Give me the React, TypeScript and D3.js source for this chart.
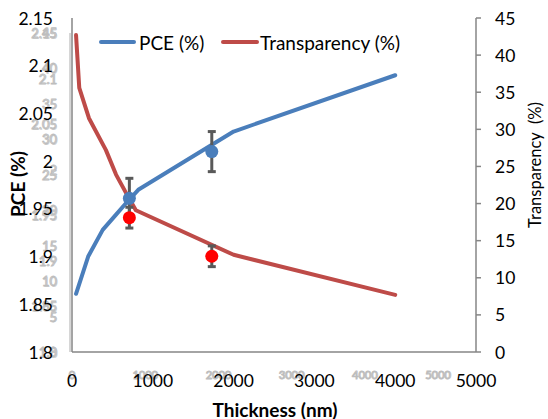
import React from "react";
import * as d3 from "d3";

// ---- data ----
const pceThickness = [50, 200, 380, 545, 700, 820, 2000, 4000];
const pceValues = [1.861, 1.9, 1.928, 1.944, 1.959, 1.97, 2.031, 2.09];
const transThickness = [50, 90, 210, 420, 545, 670, 790, 2000, 4000];
const transValues = [42.7, 35.6, 31.5, 27.2, 23.9, 21.4, 19.1, 13.1, 7.7];
const pceMarkerThickness = [710, 1730];
const pceMarkerValues = [1.961, 2.01];
const pceMarkerErrors = [0.021, 0.021];
const transMarkerThickness = [710, 1730];
const transMarkerValues = [18.1, 12.9];
const transMarkerErrors = [1.4, 1.4];
const xTicks = [0, 1000, 2000, 3000, 4000, 5000];
const leftTicks = [1.8, 1.85, 1.9, 1.95, 2, 2.05, 2.1, 2.15];
const rightTicks = [0, 5, 10, 15, 20, 25, 30, 35, 40, 45];
const seriesNames = ["PCE (%)", "Transparency (%)"];

const W = 548;
const H = 419;
const L = 72, R = 476, T = 18, B = 352;
const FONT = "Lato, 'Open Sans', sans-serif";
const BLUE = "#4A7EBB";
const RED = "#BE4B48";
const AX = "#868686";
const GHOST = "#bdbdbd";

export default function App() {
  const x = d3.scaleLinear().domain([0, 5000]).range([L, R]);
  const yL = d3.scaleLinear().domain([1.8, 2.15]).range([B, T]);
  const yR = d3.scaleLinear().domain([0, 45]).range([B, T]);
  // faint duplicated axes visible in the reference
  const gx = d3.scaleLinear().domain([0, 5000]).range([L, 438]);
  const gyL = d3.scaleLinear().domain([1.8, 2.15]).range([B, 33]);
  const gyR = d3.scaleLinear().domain([0, 45]).range([B, 33]);

  const pceLine = d3
    .line<number>()
    .x((_, i) => x(pceThickness[i]))
    .y((v) => yL(v));
  const transLine = d3
    .line<number>()
    .x((_, i) => x(transThickness[i]))
    .y((v) => yR(v));

  const fmtL = (v: number) => String(+v.toFixed(2));

  const ghostText = (key: string, tx: number, ty: number, s: string, size: number, anchor: string) => (
    <g key={key}>
      <text x={tx + 0.8} y={ty + 0.6} fontSize={size} fill="#d6d6d6" textAnchor={anchor as any} dominantBaseline="central" fontFamily={FONT}>{s}</text>
      <text x={tx} y={ty} fontSize={size} fill="#f4f4f4" stroke={GHOST} strokeWidth={0.9} textAnchor={anchor as any} dominantBaseline="central" fontFamily={FONT}>{s}</text>
    </g>
  );

  const errBar = (cx: number, y1: number, y2: number, key: string) => (
    <g key={key} stroke="#595959" strokeWidth={3}>
      <line x1={cx} x2={cx} y1={y1} y2={y2} />
      <line x1={cx - 4} x2={cx + 4} y1={y1} y2={y1} />
      <line x1={cx - 4} x2={cx + 4} y1={y2} y2={y2} />
    </g>
  );

  return (
    <svg width={W} height={H} style={{ position: "absolute", left: 0, top: 0, background: "#fff" }} fontFamily={FONT}>
      <rect x={0} y={0} width={W} height={H} fill="#fff" />

      {/* ghost axes */}
      <line x1={L - 2} x2={L - 2} y1={33} y2={B} stroke="#c8c8c8" strokeWidth={1.5} />
      {leftTicks.map((v) => ghostText("gl" + v, 57, gyL(v), fmtL(v), 13, "end"))}
      {rightTicks.map((v) => ghostText("gr" + v, 57, gyR(v), String(v), 13, "end"))}
      {xTicks.map((v) => ghostText("gx" + v, gx(v), 374, String(v), 11, "middle"))}

      {/* axes */}
      <line x1={L} x2={L} y1={T} y2={B} stroke={AX} strokeWidth={1.5} />
      <line x1={L} x2={R} y1={B} y2={B} stroke={AX} strokeWidth={1.5} />
      <line x1={R} x2={R} y1={T} y2={B} stroke={AX} strokeWidth={1.5} />
      {rightTicks.map((v) => (
        <line key={"rt" + v} x1={R} x2={R + 5} y1={yR(v)} y2={yR(v)} stroke={AX} strokeWidth={1.5} />
      ))}

      {leftTicks.map((v) => (
        <text key={"l" + v} x={53} y={yL(v)} fontSize={17.5} textAnchor="end" dominantBaseline="central" fill="#000">{fmtL(v)}</text>
      ))}
      {rightTicks.map((v) => (
        <text key={"r" + v} x={495} y={yR(v)} fontSize={17.5} textAnchor="start" dominantBaseline="central" fill="#000">{v}</text>
      ))}
      {xTicks.map((v) => (
        <text key={"x" + v} x={x(v)} y={380} fontSize={17.5} textAnchor="middle" dominantBaseline="central" fill="#000">{v}</text>
      ))}

      {/* titles */}
      <text x={275} y={409} fontSize={19} fontWeight="bold" textAnchor="middle" dominantBaseline="central">Thickness (nm)</text>
      <text transform={`translate(17,184) rotate(-90)`} fontSize={19} fontWeight="bold" textAnchor="middle" dominantBaseline="central">PCE (%)</text>
      <text transform={`translate(535,165) rotate(-90)`} fontSize={16.5} textAnchor="middle" dominantBaseline="central" xmlSpace="preserve">{"Transparency  (%)"}</text>

      {/* series lines */}
      <path d={pceLine(pceValues) || ""} fill="none" stroke={BLUE} strokeWidth={4} strokeLinejoin="round" strokeLinecap="round" />
      <path d={transLine(transValues) || ""} fill="none" stroke={RED} strokeWidth={4} strokeLinejoin="round" strokeLinecap="round" />

      {/* error bars */}
      {pceMarkerValues.map((v, i) =>
        errBar(x(pceMarkerThickness[i]), yL(v + pceMarkerErrors[i]), yL(v - pceMarkerErrors[i]), "pe" + i)
      )}
      {transMarkerValues.map((v, i) =>
        errBar(x(transMarkerThickness[i]), yR(v + transMarkerErrors[i]), yR(v - transMarkerErrors[i]), "te" + i)
      )}
      {pceMarkerValues.map((v, i) => (
        <circle key={"pm" + i} cx={x(pceMarkerThickness[i])} cy={yL(v)} r={6.5} fill={BLUE} />
      ))}
      {transMarkerValues.map((v, i) => (
        <circle key={"tm" + i} cx={x(transMarkerThickness[i])} cy={yR(v)} r={6.5} fill="#FF0000" />
      ))}

      {/* legend */}
      <line x1={101} x2={134} y1={42} y2={42} stroke={BLUE} strokeWidth={4} strokeLinecap="round" />
      <text x={139} y={42} fontSize={19} dominantBaseline="central">{seriesNames[0]}</text>
      <line x1={223} x2={257} y1={42} y2={42} stroke={RED} strokeWidth={4} strokeLinecap="round" />
      <text x={260} y={42} fontSize={19} dominantBaseline="central">{seriesNames[1]}</text>
    </svg>
  );
}
